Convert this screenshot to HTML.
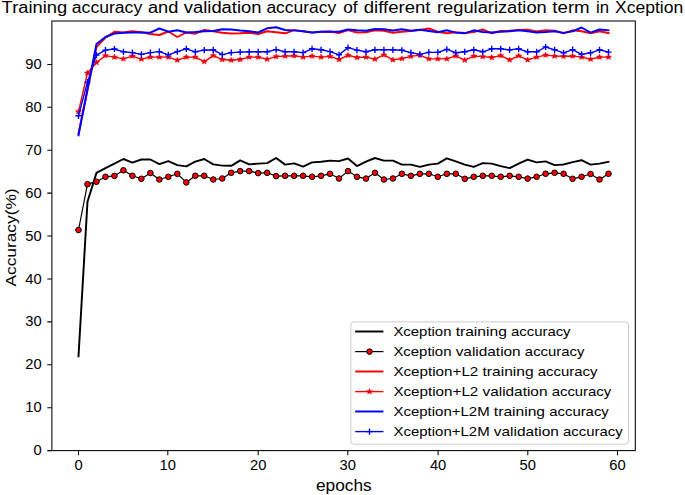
<!DOCTYPE html>
<html><head><meta charset="utf-8"><style>
html,body{margin:0;padding:0;background:#fff;width:685px;height:495px;overflow:hidden;}
svg{display:block;}
</style></head><body>
<svg width="685" height="495" viewBox="0 0 685 495"><defs><clipPath id="ax"><rect x="51.9" y="21.0" width="583.4" height="429.6"/></clipPath></defs><rect width="685" height="495" fill="#fff"/><text x="1.63" y="12.80" font-family='"Liberation Sans", sans-serif' font-size="15.8" fill="#000" textLength="65.47" lengthAdjust="spacingAndGlyphs">Training</text><text x="71.81" y="12.80" font-family='"Liberation Sans", sans-serif' font-size="15.8" fill="#000" textLength="70.41" lengthAdjust="spacingAndGlyphs">accuracy</text><text x="147.98" y="12.80" font-family='"Liberation Sans", sans-serif' font-size="15.8" fill="#000" textLength="30.37" lengthAdjust="spacingAndGlyphs">and</text><text x="183.81" y="12.80" font-family='"Liberation Sans", sans-serif' font-size="15.8" fill="#000" textLength="77.69" lengthAdjust="spacingAndGlyphs">validation</text><text x="266.41" y="12.80" font-family='"Liberation Sans", sans-serif' font-size="15.8" fill="#000" textLength="69.90" lengthAdjust="spacingAndGlyphs">accuracy</text><text x="343.31" y="12.80" font-family='"Liberation Sans", sans-serif' font-size="15.8" fill="#000" textLength="14.37" lengthAdjust="spacingAndGlyphs">of</text><text x="363.76" y="12.80" font-family='"Liberation Sans", sans-serif' font-size="15.8" fill="#000" textLength="66.74" lengthAdjust="spacingAndGlyphs">different</text><text x="437.01" y="12.80" font-family='"Liberation Sans", sans-serif' font-size="15.8" fill="#000" textLength="109.75" lengthAdjust="spacingAndGlyphs">regularization</text><text x="552.32" y="12.80" font-family='"Liberation Sans", sans-serif' font-size="15.8" fill="#000" textLength="37.39" lengthAdjust="spacingAndGlyphs">term</text><text x="596.01" y="12.80" font-family='"Liberation Sans", sans-serif' font-size="15.8" fill="#000" textLength="13.03" lengthAdjust="spacingAndGlyphs">in</text><text x="615.06" y="12.80" font-family='"Liberation Sans", sans-serif' font-size="15.8" fill="#000" textLength="68.11" lengthAdjust="spacingAndGlyphs">Xception</text><g clip-path="url(#ax)"><polyline points="78.50,356.30 87.48,201.80 96.47,172.90 105.45,168.20 114.43,163.60 123.42,159.00 132.40,162.60 141.38,159.50 150.36,159.50 159.35,164.10 168.33,161.10 177.31,165.10 186.30,166.40 195.28,161.60 204.26,159.00 213.25,164.40 222.23,165.60 231.21,165.80 240.19,160.40 249.18,164.40 258.16,163.60 267.14,163.10 276.13,158.00 285.11,164.60 294.09,163.40 303.08,166.60 312.06,162.40 321.04,161.80 330.02,160.60 339.01,161.10 347.99,158.50 356.97,166.10 365.96,161.60 374.94,158.00 383.92,160.60 392.91,160.60 401.89,164.60 410.87,164.60 419.85,166.90 428.84,164.60 437.82,163.60 446.80,158.30 455.79,161.40 464.77,164.60 473.75,166.90 482.74,163.10 491.72,163.60 500.70,166.10 509.68,168.10 518.67,163.60 527.65,159.60 536.63,162.40 545.62,161.40 554.60,165.10 563.58,164.50 572.57,162.10 581.55,160.20 590.53,164.60 599.51,163.60 608.50,161.80" fill="none" stroke="#000" stroke-width="1.95" stroke-linejoin="round" stroke-linecap="square"/><polyline points="78.50,230.00 87.48,184.20 96.47,181.70 105.45,176.80 114.43,175.90 123.42,170.30 132.40,175.80 141.38,178.80 150.36,173.00 159.35,179.50 168.33,176.80 177.31,173.80 186.30,182.40 195.28,175.80 204.26,175.80 213.25,179.50 222.23,178.50 231.21,172.80 240.19,171.10 249.18,171.10 258.16,173.10 267.14,172.80 276.13,176.10 285.11,175.80 294.09,175.80 303.08,175.80 312.06,176.80 321.04,175.80 330.02,173.80 339.01,178.50 347.99,171.10 356.97,176.80 365.96,178.60 374.94,172.80 383.92,179.50 392.91,178.50 401.89,173.80 410.87,175.80 419.85,173.80 428.84,173.80 437.82,176.80 446.80,173.80 455.79,173.80 464.77,178.80 473.75,176.80 482.74,175.80 491.72,175.80 500.70,176.80 509.68,175.80 518.67,176.80 527.65,178.60 536.63,176.80 545.62,173.80 554.60,172.80 563.58,173.80 572.57,178.80 581.55,176.80 590.53,174.00 599.51,179.50 608.50,173.80" fill="none" stroke="#000" stroke-width="1.2" stroke-linejoin="round"/><circle cx="78.50" cy="230.00" r="2.8" fill="#ff0000" stroke="#000" stroke-width="1"/><circle cx="87.48" cy="184.20" r="2.8" fill="#ff0000" stroke="#000" stroke-width="1"/><circle cx="96.47" cy="181.70" r="2.8" fill="#ff0000" stroke="#000" stroke-width="1"/><circle cx="105.45" cy="176.80" r="2.8" fill="#ff0000" stroke="#000" stroke-width="1"/><circle cx="114.43" cy="175.90" r="2.8" fill="#ff0000" stroke="#000" stroke-width="1"/><circle cx="123.42" cy="170.30" r="2.8" fill="#ff0000" stroke="#000" stroke-width="1"/><circle cx="132.40" cy="175.80" r="2.8" fill="#ff0000" stroke="#000" stroke-width="1"/><circle cx="141.38" cy="178.80" r="2.8" fill="#ff0000" stroke="#000" stroke-width="1"/><circle cx="150.36" cy="173.00" r="2.8" fill="#ff0000" stroke="#000" stroke-width="1"/><circle cx="159.35" cy="179.50" r="2.8" fill="#ff0000" stroke="#000" stroke-width="1"/><circle cx="168.33" cy="176.80" r="2.8" fill="#ff0000" stroke="#000" stroke-width="1"/><circle cx="177.31" cy="173.80" r="2.8" fill="#ff0000" stroke="#000" stroke-width="1"/><circle cx="186.30" cy="182.40" r="2.8" fill="#ff0000" stroke="#000" stroke-width="1"/><circle cx="195.28" cy="175.80" r="2.8" fill="#ff0000" stroke="#000" stroke-width="1"/><circle cx="204.26" cy="175.80" r="2.8" fill="#ff0000" stroke="#000" stroke-width="1"/><circle cx="213.25" cy="179.50" r="2.8" fill="#ff0000" stroke="#000" stroke-width="1"/><circle cx="222.23" cy="178.50" r="2.8" fill="#ff0000" stroke="#000" stroke-width="1"/><circle cx="231.21" cy="172.80" r="2.8" fill="#ff0000" stroke="#000" stroke-width="1"/><circle cx="240.19" cy="171.10" r="2.8" fill="#ff0000" stroke="#000" stroke-width="1"/><circle cx="249.18" cy="171.10" r="2.8" fill="#ff0000" stroke="#000" stroke-width="1"/><circle cx="258.16" cy="173.10" r="2.8" fill="#ff0000" stroke="#000" stroke-width="1"/><circle cx="267.14" cy="172.80" r="2.8" fill="#ff0000" stroke="#000" stroke-width="1"/><circle cx="276.13" cy="176.10" r="2.8" fill="#ff0000" stroke="#000" stroke-width="1"/><circle cx="285.11" cy="175.80" r="2.8" fill="#ff0000" stroke="#000" stroke-width="1"/><circle cx="294.09" cy="175.80" r="2.8" fill="#ff0000" stroke="#000" stroke-width="1"/><circle cx="303.08" cy="175.80" r="2.8" fill="#ff0000" stroke="#000" stroke-width="1"/><circle cx="312.06" cy="176.80" r="2.8" fill="#ff0000" stroke="#000" stroke-width="1"/><circle cx="321.04" cy="175.80" r="2.8" fill="#ff0000" stroke="#000" stroke-width="1"/><circle cx="330.02" cy="173.80" r="2.8" fill="#ff0000" stroke="#000" stroke-width="1"/><circle cx="339.01" cy="178.50" r="2.8" fill="#ff0000" stroke="#000" stroke-width="1"/><circle cx="347.99" cy="171.10" r="2.8" fill="#ff0000" stroke="#000" stroke-width="1"/><circle cx="356.97" cy="176.80" r="2.8" fill="#ff0000" stroke="#000" stroke-width="1"/><circle cx="365.96" cy="178.60" r="2.8" fill="#ff0000" stroke="#000" stroke-width="1"/><circle cx="374.94" cy="172.80" r="2.8" fill="#ff0000" stroke="#000" stroke-width="1"/><circle cx="383.92" cy="179.50" r="2.8" fill="#ff0000" stroke="#000" stroke-width="1"/><circle cx="392.91" cy="178.50" r="2.8" fill="#ff0000" stroke="#000" stroke-width="1"/><circle cx="401.89" cy="173.80" r="2.8" fill="#ff0000" stroke="#000" stroke-width="1"/><circle cx="410.87" cy="175.80" r="2.8" fill="#ff0000" stroke="#000" stroke-width="1"/><circle cx="419.85" cy="173.80" r="2.8" fill="#ff0000" stroke="#000" stroke-width="1"/><circle cx="428.84" cy="173.80" r="2.8" fill="#ff0000" stroke="#000" stroke-width="1"/><circle cx="437.82" cy="176.80" r="2.8" fill="#ff0000" stroke="#000" stroke-width="1"/><circle cx="446.80" cy="173.80" r="2.8" fill="#ff0000" stroke="#000" stroke-width="1"/><circle cx="455.79" cy="173.80" r="2.8" fill="#ff0000" stroke="#000" stroke-width="1"/><circle cx="464.77" cy="178.80" r="2.8" fill="#ff0000" stroke="#000" stroke-width="1"/><circle cx="473.75" cy="176.80" r="2.8" fill="#ff0000" stroke="#000" stroke-width="1"/><circle cx="482.74" cy="175.80" r="2.8" fill="#ff0000" stroke="#000" stroke-width="1"/><circle cx="491.72" cy="175.80" r="2.8" fill="#ff0000" stroke="#000" stroke-width="1"/><circle cx="500.70" cy="176.80" r="2.8" fill="#ff0000" stroke="#000" stroke-width="1"/><circle cx="509.68" cy="175.80" r="2.8" fill="#ff0000" stroke="#000" stroke-width="1"/><circle cx="518.67" cy="176.80" r="2.8" fill="#ff0000" stroke="#000" stroke-width="1"/><circle cx="527.65" cy="178.60" r="2.8" fill="#ff0000" stroke="#000" stroke-width="1"/><circle cx="536.63" cy="176.80" r="2.8" fill="#ff0000" stroke="#000" stroke-width="1"/><circle cx="545.62" cy="173.80" r="2.8" fill="#ff0000" stroke="#000" stroke-width="1"/><circle cx="554.60" cy="172.80" r="2.8" fill="#ff0000" stroke="#000" stroke-width="1"/><circle cx="563.58" cy="173.80" r="2.8" fill="#ff0000" stroke="#000" stroke-width="1"/><circle cx="572.57" cy="178.80" r="2.8" fill="#ff0000" stroke="#000" stroke-width="1"/><circle cx="581.55" cy="176.80" r="2.8" fill="#ff0000" stroke="#000" stroke-width="1"/><circle cx="590.53" cy="174.00" r="2.8" fill="#ff0000" stroke="#000" stroke-width="1"/><circle cx="599.51" cy="179.50" r="2.8" fill="#ff0000" stroke="#000" stroke-width="1"/><circle cx="608.50" cy="173.80" r="2.8" fill="#ff0000" stroke="#000" stroke-width="1"/><polyline points="78.50,133.50 87.48,90.00 96.47,47.10 105.45,37.60 114.43,31.70 123.42,32.50 132.40,31.30 141.38,32.30 150.36,34.00 159.35,35.00 168.33,31.50 177.31,37.00 186.30,32.50 195.28,33.70 204.26,30.00 213.25,31.30 222.23,32.70 231.21,33.50 240.19,33.30 249.18,32.70 258.16,34.00 267.14,31.30 276.13,32.30 285.11,33.30 294.09,30.10 303.08,31.30 312.06,32.60 321.04,31.70 330.02,31.50 339.01,33.00 347.99,30.00 356.97,32.50 365.96,32.30 374.94,30.30 383.92,30.70 392.91,32.70 401.89,31.80 410.87,31.00 419.85,30.00 428.84,28.50 437.82,31.70 446.80,33.30 455.79,32.30 464.77,33.00 473.75,32.00 482.74,29.50 491.72,33.30 500.70,31.00 509.68,30.80 518.67,30.00 527.65,29.70 536.63,31.50 545.62,30.30 554.60,30.70 563.58,33.40 572.57,30.30 581.55,31.30 590.53,33.30 599.51,31.30 608.50,33.00" fill="none" stroke="#ff0000" stroke-width="1.95" stroke-linejoin="round" stroke-linecap="square"/><polyline points="78.50,111.70 87.48,73.00 96.47,62.50 105.45,55.60 114.43,57.10 123.42,58.90 132.40,56.10 141.38,59.20 150.36,57.10 159.35,57.10 168.33,57.10 177.31,60.20 186.30,57.10 195.28,57.10 204.26,61.70 213.25,55.60 222.23,59.50 231.21,60.20 240.19,59.50 249.18,57.10 258.16,57.10 267.14,59.20 276.13,56.60 285.11,56.10 294.09,55.80 303.08,57.10 312.06,56.10 321.04,57.10 330.02,56.40 339.01,59.50 347.99,55.30 356.97,57.50 365.96,57.10 374.94,59.20 383.92,54.80 392.91,59.90 401.89,58.70 410.87,56.40 419.85,55.10 428.84,58.90 437.82,58.90 446.80,58.90 455.79,55.90 464.77,60.20 473.75,56.10 482.74,56.60 491.72,57.50 500.70,55.60 509.68,59.90 518.67,55.80 527.65,59.90 536.63,57.10 545.62,55.10 554.60,56.10 563.58,56.30 572.57,56.10 581.55,57.10 590.53,59.20 599.51,57.10 608.50,57.10" fill="none" stroke="#ff0000" stroke-width="1.4" stroke-linejoin="round"/><g transform="translate(78.50,111.70)"><path transform="scale(1,0.88)" d="M0.00,-3.40 L0.94,-1.29 L3.23,-1.05 L1.52,0.49 L2.00,2.75 L0.00,1.60 L-2.00,2.75 L-1.52,0.49 L-3.23,-1.05 L-0.94,-1.29 Z" fill="#ff0000" stroke="#ff0000" stroke-width="0.4"/><circle r="0.75" fill="#6a1a9a"/></g><g transform="translate(87.48,73.00)"><path transform="scale(1,0.88)" d="M0.00,-3.40 L0.94,-1.29 L3.23,-1.05 L1.52,0.49 L2.00,2.75 L0.00,1.60 L-2.00,2.75 L-1.52,0.49 L-3.23,-1.05 L-0.94,-1.29 Z" fill="#ff0000" stroke="#ff0000" stroke-width="0.4"/><circle r="0.75" fill="#6a1a9a"/></g><g transform="translate(96.47,62.50)"><path transform="scale(1,0.88)" d="M0.00,-3.40 L0.94,-1.29 L3.23,-1.05 L1.52,0.49 L2.00,2.75 L0.00,1.60 L-2.00,2.75 L-1.52,0.49 L-3.23,-1.05 L-0.94,-1.29 Z" fill="#ff0000" stroke="#ff0000" stroke-width="0.4"/><circle r="0.75" fill="#6a1a9a"/></g><g transform="translate(105.45,55.60)"><path transform="scale(1,0.88)" d="M0.00,-3.40 L0.94,-1.29 L3.23,-1.05 L1.52,0.49 L2.00,2.75 L0.00,1.60 L-2.00,2.75 L-1.52,0.49 L-3.23,-1.05 L-0.94,-1.29 Z" fill="#ff0000" stroke="#ff0000" stroke-width="0.4"/><circle r="0.75" fill="#6a1a9a"/></g><g transform="translate(114.43,57.10)"><path transform="scale(1,0.88)" d="M0.00,-3.40 L0.94,-1.29 L3.23,-1.05 L1.52,0.49 L2.00,2.75 L0.00,1.60 L-2.00,2.75 L-1.52,0.49 L-3.23,-1.05 L-0.94,-1.29 Z" fill="#ff0000" stroke="#ff0000" stroke-width="0.4"/><circle r="0.75" fill="#6a1a9a"/></g><g transform="translate(123.42,58.90)"><path transform="scale(1,0.88)" d="M0.00,-3.40 L0.94,-1.29 L3.23,-1.05 L1.52,0.49 L2.00,2.75 L0.00,1.60 L-2.00,2.75 L-1.52,0.49 L-3.23,-1.05 L-0.94,-1.29 Z" fill="#ff0000" stroke="#ff0000" stroke-width="0.4"/><circle r="0.75" fill="#6a1a9a"/></g><g transform="translate(132.40,56.10)"><path transform="scale(1,0.88)" d="M0.00,-3.40 L0.94,-1.29 L3.23,-1.05 L1.52,0.49 L2.00,2.75 L0.00,1.60 L-2.00,2.75 L-1.52,0.49 L-3.23,-1.05 L-0.94,-1.29 Z" fill="#ff0000" stroke="#ff0000" stroke-width="0.4"/><circle r="0.75" fill="#6a1a9a"/></g><g transform="translate(141.38,59.20)"><path transform="scale(1,0.88)" d="M0.00,-3.40 L0.94,-1.29 L3.23,-1.05 L1.52,0.49 L2.00,2.75 L0.00,1.60 L-2.00,2.75 L-1.52,0.49 L-3.23,-1.05 L-0.94,-1.29 Z" fill="#ff0000" stroke="#ff0000" stroke-width="0.4"/><circle r="0.75" fill="#6a1a9a"/></g><g transform="translate(150.36,57.10)"><path transform="scale(1,0.88)" d="M0.00,-3.40 L0.94,-1.29 L3.23,-1.05 L1.52,0.49 L2.00,2.75 L0.00,1.60 L-2.00,2.75 L-1.52,0.49 L-3.23,-1.05 L-0.94,-1.29 Z" fill="#ff0000" stroke="#ff0000" stroke-width="0.4"/><circle r="0.75" fill="#6a1a9a"/></g><g transform="translate(159.35,57.10)"><path transform="scale(1,0.88)" d="M0.00,-3.40 L0.94,-1.29 L3.23,-1.05 L1.52,0.49 L2.00,2.75 L0.00,1.60 L-2.00,2.75 L-1.52,0.49 L-3.23,-1.05 L-0.94,-1.29 Z" fill="#ff0000" stroke="#ff0000" stroke-width="0.4"/><circle r="0.75" fill="#6a1a9a"/></g><g transform="translate(168.33,57.10)"><path transform="scale(1,0.88)" d="M0.00,-3.40 L0.94,-1.29 L3.23,-1.05 L1.52,0.49 L2.00,2.75 L0.00,1.60 L-2.00,2.75 L-1.52,0.49 L-3.23,-1.05 L-0.94,-1.29 Z" fill="#ff0000" stroke="#ff0000" stroke-width="0.4"/><circle r="0.75" fill="#6a1a9a"/></g><g transform="translate(177.31,60.20)"><path transform="scale(1,0.88)" d="M0.00,-3.40 L0.94,-1.29 L3.23,-1.05 L1.52,0.49 L2.00,2.75 L0.00,1.60 L-2.00,2.75 L-1.52,0.49 L-3.23,-1.05 L-0.94,-1.29 Z" fill="#ff0000" stroke="#ff0000" stroke-width="0.4"/><circle r="0.75" fill="#6a1a9a"/></g><g transform="translate(186.30,57.10)"><path transform="scale(1,0.88)" d="M0.00,-3.40 L0.94,-1.29 L3.23,-1.05 L1.52,0.49 L2.00,2.75 L0.00,1.60 L-2.00,2.75 L-1.52,0.49 L-3.23,-1.05 L-0.94,-1.29 Z" fill="#ff0000" stroke="#ff0000" stroke-width="0.4"/><circle r="0.75" fill="#6a1a9a"/></g><g transform="translate(195.28,57.10)"><path transform="scale(1,0.88)" d="M0.00,-3.40 L0.94,-1.29 L3.23,-1.05 L1.52,0.49 L2.00,2.75 L0.00,1.60 L-2.00,2.75 L-1.52,0.49 L-3.23,-1.05 L-0.94,-1.29 Z" fill="#ff0000" stroke="#ff0000" stroke-width="0.4"/><circle r="0.75" fill="#6a1a9a"/></g><g transform="translate(204.26,61.70)"><path transform="scale(1,0.88)" d="M0.00,-3.40 L0.94,-1.29 L3.23,-1.05 L1.52,0.49 L2.00,2.75 L0.00,1.60 L-2.00,2.75 L-1.52,0.49 L-3.23,-1.05 L-0.94,-1.29 Z" fill="#ff0000" stroke="#ff0000" stroke-width="0.4"/><circle r="0.75" fill="#6a1a9a"/></g><g transform="translate(213.25,55.60)"><path transform="scale(1,0.88)" d="M0.00,-3.40 L0.94,-1.29 L3.23,-1.05 L1.52,0.49 L2.00,2.75 L0.00,1.60 L-2.00,2.75 L-1.52,0.49 L-3.23,-1.05 L-0.94,-1.29 Z" fill="#ff0000" stroke="#ff0000" stroke-width="0.4"/><circle r="0.75" fill="#6a1a9a"/></g><g transform="translate(222.23,59.50)"><path transform="scale(1,0.88)" d="M0.00,-3.40 L0.94,-1.29 L3.23,-1.05 L1.52,0.49 L2.00,2.75 L0.00,1.60 L-2.00,2.75 L-1.52,0.49 L-3.23,-1.05 L-0.94,-1.29 Z" fill="#ff0000" stroke="#ff0000" stroke-width="0.4"/><circle r="0.75" fill="#6a1a9a"/></g><g transform="translate(231.21,60.20)"><path transform="scale(1,0.88)" d="M0.00,-3.40 L0.94,-1.29 L3.23,-1.05 L1.52,0.49 L2.00,2.75 L0.00,1.60 L-2.00,2.75 L-1.52,0.49 L-3.23,-1.05 L-0.94,-1.29 Z" fill="#ff0000" stroke="#ff0000" stroke-width="0.4"/><circle r="0.75" fill="#6a1a9a"/></g><g transform="translate(240.19,59.50)"><path transform="scale(1,0.88)" d="M0.00,-3.40 L0.94,-1.29 L3.23,-1.05 L1.52,0.49 L2.00,2.75 L0.00,1.60 L-2.00,2.75 L-1.52,0.49 L-3.23,-1.05 L-0.94,-1.29 Z" fill="#ff0000" stroke="#ff0000" stroke-width="0.4"/><circle r="0.75" fill="#6a1a9a"/></g><g transform="translate(249.18,57.10)"><path transform="scale(1,0.88)" d="M0.00,-3.40 L0.94,-1.29 L3.23,-1.05 L1.52,0.49 L2.00,2.75 L0.00,1.60 L-2.00,2.75 L-1.52,0.49 L-3.23,-1.05 L-0.94,-1.29 Z" fill="#ff0000" stroke="#ff0000" stroke-width="0.4"/><circle r="0.75" fill="#6a1a9a"/></g><g transform="translate(258.16,57.10)"><path transform="scale(1,0.88)" d="M0.00,-3.40 L0.94,-1.29 L3.23,-1.05 L1.52,0.49 L2.00,2.75 L0.00,1.60 L-2.00,2.75 L-1.52,0.49 L-3.23,-1.05 L-0.94,-1.29 Z" fill="#ff0000" stroke="#ff0000" stroke-width="0.4"/><circle r="0.75" fill="#6a1a9a"/></g><g transform="translate(267.14,59.20)"><path transform="scale(1,0.88)" d="M0.00,-3.40 L0.94,-1.29 L3.23,-1.05 L1.52,0.49 L2.00,2.75 L0.00,1.60 L-2.00,2.75 L-1.52,0.49 L-3.23,-1.05 L-0.94,-1.29 Z" fill="#ff0000" stroke="#ff0000" stroke-width="0.4"/><circle r="0.75" fill="#6a1a9a"/></g><g transform="translate(276.13,56.60)"><path transform="scale(1,0.88)" d="M0.00,-3.40 L0.94,-1.29 L3.23,-1.05 L1.52,0.49 L2.00,2.75 L0.00,1.60 L-2.00,2.75 L-1.52,0.49 L-3.23,-1.05 L-0.94,-1.29 Z" fill="#ff0000" stroke="#ff0000" stroke-width="0.4"/><circle r="0.75" fill="#6a1a9a"/></g><g transform="translate(285.11,56.10)"><path transform="scale(1,0.88)" d="M0.00,-3.40 L0.94,-1.29 L3.23,-1.05 L1.52,0.49 L2.00,2.75 L0.00,1.60 L-2.00,2.75 L-1.52,0.49 L-3.23,-1.05 L-0.94,-1.29 Z" fill="#ff0000" stroke="#ff0000" stroke-width="0.4"/><circle r="0.75" fill="#6a1a9a"/></g><g transform="translate(294.09,55.80)"><path transform="scale(1,0.88)" d="M0.00,-3.40 L0.94,-1.29 L3.23,-1.05 L1.52,0.49 L2.00,2.75 L0.00,1.60 L-2.00,2.75 L-1.52,0.49 L-3.23,-1.05 L-0.94,-1.29 Z" fill="#ff0000" stroke="#ff0000" stroke-width="0.4"/><circle r="0.75" fill="#6a1a9a"/></g><g transform="translate(303.08,57.10)"><path transform="scale(1,0.88)" d="M0.00,-3.40 L0.94,-1.29 L3.23,-1.05 L1.52,0.49 L2.00,2.75 L0.00,1.60 L-2.00,2.75 L-1.52,0.49 L-3.23,-1.05 L-0.94,-1.29 Z" fill="#ff0000" stroke="#ff0000" stroke-width="0.4"/><circle r="0.75" fill="#6a1a9a"/></g><g transform="translate(312.06,56.10)"><path transform="scale(1,0.88)" d="M0.00,-3.40 L0.94,-1.29 L3.23,-1.05 L1.52,0.49 L2.00,2.75 L0.00,1.60 L-2.00,2.75 L-1.52,0.49 L-3.23,-1.05 L-0.94,-1.29 Z" fill="#ff0000" stroke="#ff0000" stroke-width="0.4"/><circle r="0.75" fill="#6a1a9a"/></g><g transform="translate(321.04,57.10)"><path transform="scale(1,0.88)" d="M0.00,-3.40 L0.94,-1.29 L3.23,-1.05 L1.52,0.49 L2.00,2.75 L0.00,1.60 L-2.00,2.75 L-1.52,0.49 L-3.23,-1.05 L-0.94,-1.29 Z" fill="#ff0000" stroke="#ff0000" stroke-width="0.4"/><circle r="0.75" fill="#6a1a9a"/></g><g transform="translate(330.02,56.40)"><path transform="scale(1,0.88)" d="M0.00,-3.40 L0.94,-1.29 L3.23,-1.05 L1.52,0.49 L2.00,2.75 L0.00,1.60 L-2.00,2.75 L-1.52,0.49 L-3.23,-1.05 L-0.94,-1.29 Z" fill="#ff0000" stroke="#ff0000" stroke-width="0.4"/><circle r="0.75" fill="#6a1a9a"/></g><g transform="translate(339.01,59.50)"><path transform="scale(1,0.88)" d="M0.00,-3.40 L0.94,-1.29 L3.23,-1.05 L1.52,0.49 L2.00,2.75 L0.00,1.60 L-2.00,2.75 L-1.52,0.49 L-3.23,-1.05 L-0.94,-1.29 Z" fill="#ff0000" stroke="#ff0000" stroke-width="0.4"/><circle r="0.75" fill="#6a1a9a"/></g><g transform="translate(347.99,55.30)"><path transform="scale(1,0.88)" d="M0.00,-3.40 L0.94,-1.29 L3.23,-1.05 L1.52,0.49 L2.00,2.75 L0.00,1.60 L-2.00,2.75 L-1.52,0.49 L-3.23,-1.05 L-0.94,-1.29 Z" fill="#ff0000" stroke="#ff0000" stroke-width="0.4"/><circle r="0.75" fill="#6a1a9a"/></g><g transform="translate(356.97,57.50)"><path transform="scale(1,0.88)" d="M0.00,-3.40 L0.94,-1.29 L3.23,-1.05 L1.52,0.49 L2.00,2.75 L0.00,1.60 L-2.00,2.75 L-1.52,0.49 L-3.23,-1.05 L-0.94,-1.29 Z" fill="#ff0000" stroke="#ff0000" stroke-width="0.4"/><circle r="0.75" fill="#6a1a9a"/></g><g transform="translate(365.96,57.10)"><path transform="scale(1,0.88)" d="M0.00,-3.40 L0.94,-1.29 L3.23,-1.05 L1.52,0.49 L2.00,2.75 L0.00,1.60 L-2.00,2.75 L-1.52,0.49 L-3.23,-1.05 L-0.94,-1.29 Z" fill="#ff0000" stroke="#ff0000" stroke-width="0.4"/><circle r="0.75" fill="#6a1a9a"/></g><g transform="translate(374.94,59.20)"><path transform="scale(1,0.88)" d="M0.00,-3.40 L0.94,-1.29 L3.23,-1.05 L1.52,0.49 L2.00,2.75 L0.00,1.60 L-2.00,2.75 L-1.52,0.49 L-3.23,-1.05 L-0.94,-1.29 Z" fill="#ff0000" stroke="#ff0000" stroke-width="0.4"/><circle r="0.75" fill="#6a1a9a"/></g><g transform="translate(383.92,54.80)"><path transform="scale(1,0.88)" d="M0.00,-3.40 L0.94,-1.29 L3.23,-1.05 L1.52,0.49 L2.00,2.75 L0.00,1.60 L-2.00,2.75 L-1.52,0.49 L-3.23,-1.05 L-0.94,-1.29 Z" fill="#ff0000" stroke="#ff0000" stroke-width="0.4"/><circle r="0.75" fill="#6a1a9a"/></g><g transform="translate(392.91,59.90)"><path transform="scale(1,0.88)" d="M0.00,-3.40 L0.94,-1.29 L3.23,-1.05 L1.52,0.49 L2.00,2.75 L0.00,1.60 L-2.00,2.75 L-1.52,0.49 L-3.23,-1.05 L-0.94,-1.29 Z" fill="#ff0000" stroke="#ff0000" stroke-width="0.4"/><circle r="0.75" fill="#6a1a9a"/></g><g transform="translate(401.89,58.70)"><path transform="scale(1,0.88)" d="M0.00,-3.40 L0.94,-1.29 L3.23,-1.05 L1.52,0.49 L2.00,2.75 L0.00,1.60 L-2.00,2.75 L-1.52,0.49 L-3.23,-1.05 L-0.94,-1.29 Z" fill="#ff0000" stroke="#ff0000" stroke-width="0.4"/><circle r="0.75" fill="#6a1a9a"/></g><g transform="translate(410.87,56.40)"><path transform="scale(1,0.88)" d="M0.00,-3.40 L0.94,-1.29 L3.23,-1.05 L1.52,0.49 L2.00,2.75 L0.00,1.60 L-2.00,2.75 L-1.52,0.49 L-3.23,-1.05 L-0.94,-1.29 Z" fill="#ff0000" stroke="#ff0000" stroke-width="0.4"/><circle r="0.75" fill="#6a1a9a"/></g><g transform="translate(419.85,55.10)"><path transform="scale(1,0.88)" d="M0.00,-3.40 L0.94,-1.29 L3.23,-1.05 L1.52,0.49 L2.00,2.75 L0.00,1.60 L-2.00,2.75 L-1.52,0.49 L-3.23,-1.05 L-0.94,-1.29 Z" fill="#ff0000" stroke="#ff0000" stroke-width="0.4"/><circle r="0.75" fill="#6a1a9a"/></g><g transform="translate(428.84,58.90)"><path transform="scale(1,0.88)" d="M0.00,-3.40 L0.94,-1.29 L3.23,-1.05 L1.52,0.49 L2.00,2.75 L0.00,1.60 L-2.00,2.75 L-1.52,0.49 L-3.23,-1.05 L-0.94,-1.29 Z" fill="#ff0000" stroke="#ff0000" stroke-width="0.4"/><circle r="0.75" fill="#6a1a9a"/></g><g transform="translate(437.82,58.90)"><path transform="scale(1,0.88)" d="M0.00,-3.40 L0.94,-1.29 L3.23,-1.05 L1.52,0.49 L2.00,2.75 L0.00,1.60 L-2.00,2.75 L-1.52,0.49 L-3.23,-1.05 L-0.94,-1.29 Z" fill="#ff0000" stroke="#ff0000" stroke-width="0.4"/><circle r="0.75" fill="#6a1a9a"/></g><g transform="translate(446.80,58.90)"><path transform="scale(1,0.88)" d="M0.00,-3.40 L0.94,-1.29 L3.23,-1.05 L1.52,0.49 L2.00,2.75 L0.00,1.60 L-2.00,2.75 L-1.52,0.49 L-3.23,-1.05 L-0.94,-1.29 Z" fill="#ff0000" stroke="#ff0000" stroke-width="0.4"/><circle r="0.75" fill="#6a1a9a"/></g><g transform="translate(455.79,55.90)"><path transform="scale(1,0.88)" d="M0.00,-3.40 L0.94,-1.29 L3.23,-1.05 L1.52,0.49 L2.00,2.75 L0.00,1.60 L-2.00,2.75 L-1.52,0.49 L-3.23,-1.05 L-0.94,-1.29 Z" fill="#ff0000" stroke="#ff0000" stroke-width="0.4"/><circle r="0.75" fill="#6a1a9a"/></g><g transform="translate(464.77,60.20)"><path transform="scale(1,0.88)" d="M0.00,-3.40 L0.94,-1.29 L3.23,-1.05 L1.52,0.49 L2.00,2.75 L0.00,1.60 L-2.00,2.75 L-1.52,0.49 L-3.23,-1.05 L-0.94,-1.29 Z" fill="#ff0000" stroke="#ff0000" stroke-width="0.4"/><circle r="0.75" fill="#6a1a9a"/></g><g transform="translate(473.75,56.10)"><path transform="scale(1,0.88)" d="M0.00,-3.40 L0.94,-1.29 L3.23,-1.05 L1.52,0.49 L2.00,2.75 L0.00,1.60 L-2.00,2.75 L-1.52,0.49 L-3.23,-1.05 L-0.94,-1.29 Z" fill="#ff0000" stroke="#ff0000" stroke-width="0.4"/><circle r="0.75" fill="#6a1a9a"/></g><g transform="translate(482.74,56.60)"><path transform="scale(1,0.88)" d="M0.00,-3.40 L0.94,-1.29 L3.23,-1.05 L1.52,0.49 L2.00,2.75 L0.00,1.60 L-2.00,2.75 L-1.52,0.49 L-3.23,-1.05 L-0.94,-1.29 Z" fill="#ff0000" stroke="#ff0000" stroke-width="0.4"/><circle r="0.75" fill="#6a1a9a"/></g><g transform="translate(491.72,57.50)"><path transform="scale(1,0.88)" d="M0.00,-3.40 L0.94,-1.29 L3.23,-1.05 L1.52,0.49 L2.00,2.75 L0.00,1.60 L-2.00,2.75 L-1.52,0.49 L-3.23,-1.05 L-0.94,-1.29 Z" fill="#ff0000" stroke="#ff0000" stroke-width="0.4"/><circle r="0.75" fill="#6a1a9a"/></g><g transform="translate(500.70,55.60)"><path transform="scale(1,0.88)" d="M0.00,-3.40 L0.94,-1.29 L3.23,-1.05 L1.52,0.49 L2.00,2.75 L0.00,1.60 L-2.00,2.75 L-1.52,0.49 L-3.23,-1.05 L-0.94,-1.29 Z" fill="#ff0000" stroke="#ff0000" stroke-width="0.4"/><circle r="0.75" fill="#6a1a9a"/></g><g transform="translate(509.68,59.90)"><path transform="scale(1,0.88)" d="M0.00,-3.40 L0.94,-1.29 L3.23,-1.05 L1.52,0.49 L2.00,2.75 L0.00,1.60 L-2.00,2.75 L-1.52,0.49 L-3.23,-1.05 L-0.94,-1.29 Z" fill="#ff0000" stroke="#ff0000" stroke-width="0.4"/><circle r="0.75" fill="#6a1a9a"/></g><g transform="translate(518.67,55.80)"><path transform="scale(1,0.88)" d="M0.00,-3.40 L0.94,-1.29 L3.23,-1.05 L1.52,0.49 L2.00,2.75 L0.00,1.60 L-2.00,2.75 L-1.52,0.49 L-3.23,-1.05 L-0.94,-1.29 Z" fill="#ff0000" stroke="#ff0000" stroke-width="0.4"/><circle r="0.75" fill="#6a1a9a"/></g><g transform="translate(527.65,59.90)"><path transform="scale(1,0.88)" d="M0.00,-3.40 L0.94,-1.29 L3.23,-1.05 L1.52,0.49 L2.00,2.75 L0.00,1.60 L-2.00,2.75 L-1.52,0.49 L-3.23,-1.05 L-0.94,-1.29 Z" fill="#ff0000" stroke="#ff0000" stroke-width="0.4"/><circle r="0.75" fill="#6a1a9a"/></g><g transform="translate(536.63,57.10)"><path transform="scale(1,0.88)" d="M0.00,-3.40 L0.94,-1.29 L3.23,-1.05 L1.52,0.49 L2.00,2.75 L0.00,1.60 L-2.00,2.75 L-1.52,0.49 L-3.23,-1.05 L-0.94,-1.29 Z" fill="#ff0000" stroke="#ff0000" stroke-width="0.4"/><circle r="0.75" fill="#6a1a9a"/></g><g transform="translate(545.62,55.10)"><path transform="scale(1,0.88)" d="M0.00,-3.40 L0.94,-1.29 L3.23,-1.05 L1.52,0.49 L2.00,2.75 L0.00,1.60 L-2.00,2.75 L-1.52,0.49 L-3.23,-1.05 L-0.94,-1.29 Z" fill="#ff0000" stroke="#ff0000" stroke-width="0.4"/><circle r="0.75" fill="#6a1a9a"/></g><g transform="translate(554.60,56.10)"><path transform="scale(1,0.88)" d="M0.00,-3.40 L0.94,-1.29 L3.23,-1.05 L1.52,0.49 L2.00,2.75 L0.00,1.60 L-2.00,2.75 L-1.52,0.49 L-3.23,-1.05 L-0.94,-1.29 Z" fill="#ff0000" stroke="#ff0000" stroke-width="0.4"/><circle r="0.75" fill="#6a1a9a"/></g><g transform="translate(563.58,56.30)"><path transform="scale(1,0.88)" d="M0.00,-3.40 L0.94,-1.29 L3.23,-1.05 L1.52,0.49 L2.00,2.75 L0.00,1.60 L-2.00,2.75 L-1.52,0.49 L-3.23,-1.05 L-0.94,-1.29 Z" fill="#ff0000" stroke="#ff0000" stroke-width="0.4"/><circle r="0.75" fill="#6a1a9a"/></g><g transform="translate(572.57,56.10)"><path transform="scale(1,0.88)" d="M0.00,-3.40 L0.94,-1.29 L3.23,-1.05 L1.52,0.49 L2.00,2.75 L0.00,1.60 L-2.00,2.75 L-1.52,0.49 L-3.23,-1.05 L-0.94,-1.29 Z" fill="#ff0000" stroke="#ff0000" stroke-width="0.4"/><circle r="0.75" fill="#6a1a9a"/></g><g transform="translate(581.55,57.10)"><path transform="scale(1,0.88)" d="M0.00,-3.40 L0.94,-1.29 L3.23,-1.05 L1.52,0.49 L2.00,2.75 L0.00,1.60 L-2.00,2.75 L-1.52,0.49 L-3.23,-1.05 L-0.94,-1.29 Z" fill="#ff0000" stroke="#ff0000" stroke-width="0.4"/><circle r="0.75" fill="#6a1a9a"/></g><g transform="translate(590.53,59.20)"><path transform="scale(1,0.88)" d="M0.00,-3.40 L0.94,-1.29 L3.23,-1.05 L1.52,0.49 L2.00,2.75 L0.00,1.60 L-2.00,2.75 L-1.52,0.49 L-3.23,-1.05 L-0.94,-1.29 Z" fill="#ff0000" stroke="#ff0000" stroke-width="0.4"/><circle r="0.75" fill="#6a1a9a"/></g><g transform="translate(599.51,57.10)"><path transform="scale(1,0.88)" d="M0.00,-3.40 L0.94,-1.29 L3.23,-1.05 L1.52,0.49 L2.00,2.75 L0.00,1.60 L-2.00,2.75 L-1.52,0.49 L-3.23,-1.05 L-0.94,-1.29 Z" fill="#ff0000" stroke="#ff0000" stroke-width="0.4"/><circle r="0.75" fill="#6a1a9a"/></g><g transform="translate(608.50,57.10)"><path transform="scale(1,0.88)" d="M0.00,-3.40 L0.94,-1.29 L3.23,-1.05 L1.52,0.49 L2.00,2.75 L0.00,1.60 L-2.00,2.75 L-1.52,0.49 L-3.23,-1.05 L-0.94,-1.29 Z" fill="#ff0000" stroke="#ff0000" stroke-width="0.4"/><circle r="0.75" fill="#6a1a9a"/></g><polyline points="78.50,135.30 87.48,89.50 96.47,44.00 105.45,37.00 114.43,33.60 123.42,32.70 132.40,32.50 141.38,32.50 150.36,32.70 159.35,28.50 168.33,31.70 177.31,30.30 186.30,32.50 195.28,32.00 204.26,31.30 213.25,31.00 222.23,29.30 231.21,29.50 240.19,30.50 249.18,31.30 258.16,32.50 267.14,28.30 276.13,27.20 285.11,30.00 294.09,30.40 303.08,31.30 312.06,32.50 321.04,31.70 330.02,31.70 339.01,31.70 347.99,29.50 356.97,30.30 365.96,30.70 374.94,29.00 383.92,29.30 392.91,30.50 401.89,29.30 410.87,30.70 419.85,29.70 428.84,31.00 437.82,32.30 446.80,30.30 455.79,32.60 464.77,33.30 473.75,30.30 482.74,32.00 491.72,32.50 500.70,31.70 509.68,31.20 518.67,30.30 527.65,31.30 536.63,32.50 545.62,32.00 554.60,31.30 563.58,32.90 572.57,31.30 581.55,27.50 590.53,32.70 599.51,29.50 608.50,30.30" fill="none" stroke="#0000ff" stroke-width="1.95" stroke-linejoin="round" stroke-linecap="square"/><polyline points="78.50,115.80 87.48,82.10 96.47,55.10 105.45,50.10 114.43,49.00 123.42,51.80 132.40,52.60 141.38,54.40 150.36,52.60 159.35,51.60 168.33,54.80 177.31,51.60 186.30,48.80 195.28,51.80 204.26,50.10 213.25,49.80 222.23,54.60 231.21,52.60 240.19,52.10 249.18,51.80 258.16,51.80 267.14,51.80 276.13,49.60 285.11,51.80 294.09,51.80 303.08,52.60 312.06,48.80 321.04,49.80 330.02,51.60 339.01,54.80 347.99,47.60 356.97,50.10 365.96,51.80 374.94,49.80 383.92,49.80 392.91,49.80 401.89,50.30 410.87,52.60 419.85,54.40 428.84,52.40 437.82,52.40 446.80,49.40 455.79,52.70 464.77,51.80 473.75,49.80 482.74,51.80 491.72,48.80 500.70,48.80 509.68,49.90 518.67,48.80 527.65,51.80 536.63,51.80 545.62,47.00 554.60,49.80 563.58,52.80 572.57,49.60 581.55,54.40 590.53,52.80 599.51,49.80 608.50,52.10" fill="none" stroke="#0000ff" stroke-width="1.4" stroke-linejoin="round"/><path d="M75.40,115.80 H81.60 M78.50,112.70 V118.90" stroke="#0000ff" stroke-width="1.4" fill="none"/><path d="M84.38,82.10 H90.58 M87.48,79.00 V85.20" stroke="#0000ff" stroke-width="1.4" fill="none"/><path d="M93.37,55.10 H99.57 M96.47,52.00 V58.20" stroke="#0000ff" stroke-width="1.4" fill="none"/><path d="M102.35,50.10 H108.55 M105.45,47.00 V53.20" stroke="#0000ff" stroke-width="1.4" fill="none"/><path d="M111.33,49.00 H117.53 M114.43,45.90 V52.10" stroke="#0000ff" stroke-width="1.4" fill="none"/><path d="M120.32,51.80 H126.52 M123.42,48.70 V54.90" stroke="#0000ff" stroke-width="1.4" fill="none"/><path d="M129.30,52.60 H135.50 M132.40,49.50 V55.70" stroke="#0000ff" stroke-width="1.4" fill="none"/><path d="M138.28,54.40 H144.48 M141.38,51.30 V57.50" stroke="#0000ff" stroke-width="1.4" fill="none"/><path d="M147.26,52.60 H153.46 M150.36,49.50 V55.70" stroke="#0000ff" stroke-width="1.4" fill="none"/><path d="M156.25,51.60 H162.45 M159.35,48.50 V54.70" stroke="#0000ff" stroke-width="1.4" fill="none"/><path d="M165.23,54.80 H171.43 M168.33,51.70 V57.90" stroke="#0000ff" stroke-width="1.4" fill="none"/><path d="M174.21,51.60 H180.41 M177.31,48.50 V54.70" stroke="#0000ff" stroke-width="1.4" fill="none"/><path d="M183.20,48.80 H189.40 M186.30,45.70 V51.90" stroke="#0000ff" stroke-width="1.4" fill="none"/><path d="M192.18,51.80 H198.38 M195.28,48.70 V54.90" stroke="#0000ff" stroke-width="1.4" fill="none"/><path d="M201.16,50.10 H207.36 M204.26,47.00 V53.20" stroke="#0000ff" stroke-width="1.4" fill="none"/><path d="M210.15,49.80 H216.34 M213.25,46.70 V52.90" stroke="#0000ff" stroke-width="1.4" fill="none"/><path d="M219.13,54.60 H225.33 M222.23,51.50 V57.70" stroke="#0000ff" stroke-width="1.4" fill="none"/><path d="M228.11,52.60 H234.31 M231.21,49.50 V55.70" stroke="#0000ff" stroke-width="1.4" fill="none"/><path d="M237.09,52.10 H243.29 M240.19,49.00 V55.20" stroke="#0000ff" stroke-width="1.4" fill="none"/><path d="M246.08,51.80 H252.28 M249.18,48.70 V54.90" stroke="#0000ff" stroke-width="1.4" fill="none"/><path d="M255.06,51.80 H261.26 M258.16,48.70 V54.90" stroke="#0000ff" stroke-width="1.4" fill="none"/><path d="M264.04,51.80 H270.24 M267.14,48.70 V54.90" stroke="#0000ff" stroke-width="1.4" fill="none"/><path d="M273.03,49.60 H279.23 M276.13,46.50 V52.70" stroke="#0000ff" stroke-width="1.4" fill="none"/><path d="M282.01,51.80 H288.21 M285.11,48.70 V54.90" stroke="#0000ff" stroke-width="1.4" fill="none"/><path d="M290.99,51.80 H297.19 M294.09,48.70 V54.90" stroke="#0000ff" stroke-width="1.4" fill="none"/><path d="M299.98,52.60 H306.18 M303.08,49.50 V55.70" stroke="#0000ff" stroke-width="1.4" fill="none"/><path d="M308.96,48.80 H315.16 M312.06,45.70 V51.90" stroke="#0000ff" stroke-width="1.4" fill="none"/><path d="M317.94,49.80 H324.14 M321.04,46.70 V52.90" stroke="#0000ff" stroke-width="1.4" fill="none"/><path d="M326.92,51.60 H333.12 M330.02,48.50 V54.70" stroke="#0000ff" stroke-width="1.4" fill="none"/><path d="M335.91,54.80 H342.11 M339.01,51.70 V57.90" stroke="#0000ff" stroke-width="1.4" fill="none"/><path d="M344.89,47.60 H351.09 M347.99,44.50 V50.70" stroke="#0000ff" stroke-width="1.4" fill="none"/><path d="M353.87,50.10 H360.07 M356.97,47.00 V53.20" stroke="#0000ff" stroke-width="1.4" fill="none"/><path d="M362.86,51.80 H369.06 M365.96,48.70 V54.90" stroke="#0000ff" stroke-width="1.4" fill="none"/><path d="M371.84,49.80 H378.04 M374.94,46.70 V52.90" stroke="#0000ff" stroke-width="1.4" fill="none"/><path d="M380.82,49.80 H387.02 M383.92,46.70 V52.90" stroke="#0000ff" stroke-width="1.4" fill="none"/><path d="M389.81,49.80 H396.01 M392.91,46.70 V52.90" stroke="#0000ff" stroke-width="1.4" fill="none"/><path d="M398.79,50.30 H404.99 M401.89,47.20 V53.40" stroke="#0000ff" stroke-width="1.4" fill="none"/><path d="M407.77,52.60 H413.97 M410.87,49.50 V55.70" stroke="#0000ff" stroke-width="1.4" fill="none"/><path d="M416.75,54.40 H422.95 M419.85,51.30 V57.50" stroke="#0000ff" stroke-width="1.4" fill="none"/><path d="M425.74,52.40 H431.94 M428.84,49.30 V55.50" stroke="#0000ff" stroke-width="1.4" fill="none"/><path d="M434.72,52.40 H440.92 M437.82,49.30 V55.50" stroke="#0000ff" stroke-width="1.4" fill="none"/><path d="M443.70,49.40 H449.90 M446.80,46.30 V52.50" stroke="#0000ff" stroke-width="1.4" fill="none"/><path d="M452.69,52.70 H458.89 M455.79,49.60 V55.80" stroke="#0000ff" stroke-width="1.4" fill="none"/><path d="M461.67,51.80 H467.87 M464.77,48.70 V54.90" stroke="#0000ff" stroke-width="1.4" fill="none"/><path d="M470.65,49.80 H476.85 M473.75,46.70 V52.90" stroke="#0000ff" stroke-width="1.4" fill="none"/><path d="M479.63,51.80 H485.84 M482.74,48.70 V54.90" stroke="#0000ff" stroke-width="1.4" fill="none"/><path d="M488.62,48.80 H494.82 M491.72,45.70 V51.90" stroke="#0000ff" stroke-width="1.4" fill="none"/><path d="M497.60,48.80 H503.80 M500.70,45.70 V51.90" stroke="#0000ff" stroke-width="1.4" fill="none"/><path d="M506.58,49.90 H512.78 M509.68,46.80 V53.00" stroke="#0000ff" stroke-width="1.4" fill="none"/><path d="M515.57,48.80 H521.77 M518.67,45.70 V51.90" stroke="#0000ff" stroke-width="1.4" fill="none"/><path d="M524.55,51.80 H530.75 M527.65,48.70 V54.90" stroke="#0000ff" stroke-width="1.4" fill="none"/><path d="M533.53,51.80 H539.73 M536.63,48.70 V54.90" stroke="#0000ff" stroke-width="1.4" fill="none"/><path d="M542.52,47.00 H548.72 M545.62,43.90 V50.10" stroke="#0000ff" stroke-width="1.4" fill="none"/><path d="M551.50,49.80 H557.70 M554.60,46.70 V52.90" stroke="#0000ff" stroke-width="1.4" fill="none"/><path d="M560.48,52.80 H566.68 M563.58,49.70 V55.90" stroke="#0000ff" stroke-width="1.4" fill="none"/><path d="M569.47,49.60 H575.67 M572.57,46.50 V52.70" stroke="#0000ff" stroke-width="1.4" fill="none"/><path d="M578.45,54.40 H584.65 M581.55,51.30 V57.50" stroke="#0000ff" stroke-width="1.4" fill="none"/><path d="M587.43,52.80 H593.63 M590.53,49.70 V55.90" stroke="#0000ff" stroke-width="1.4" fill="none"/><path d="M596.41,49.80 H602.61 M599.51,46.70 V52.90" stroke="#0000ff" stroke-width="1.4" fill="none"/><path d="M605.40,52.10 H611.60 M608.50,49.00 V55.20" stroke="#0000ff" stroke-width="1.4" fill="none"/></g><rect x="51.9" y="21.0" width="583.40" height="429.60" fill="none" stroke="#000" stroke-width="1.05"/><path d="M78.50,450.6 v4.6 M167.80,450.6 v4.6 M258.20,450.6 v4.6 M347.80,450.6 v4.6 M438.10,450.6 v4.6 M527.80,450.6 v4.6 M617.50,450.6 v4.6 M51.9,450.60 h-4.6 M51.9,407.69 h-4.6 M51.9,364.78 h-4.6 M51.9,321.87 h-4.6 M51.9,278.96 h-4.6 M51.9,236.04 h-4.6 M51.9,193.13 h-4.6 M51.9,150.22 h-4.6 M51.9,107.31 h-4.6 M51.9,64.40 h-4.6" stroke="#000" stroke-width="1.05" fill="none"/><text x="78.50" y="470.2" font-family='"Liberation Sans", sans-serif' font-size="13.8" text-anchor="middle" fill="#000" textLength="8.20" lengthAdjust="spacingAndGlyphs">0</text><text x="167.80" y="470.2" font-family='"Liberation Sans", sans-serif' font-size="13.8" text-anchor="middle" fill="#000" textLength="16.40" lengthAdjust="spacingAndGlyphs">10</text><text x="258.20" y="470.2" font-family='"Liberation Sans", sans-serif' font-size="13.8" text-anchor="middle" fill="#000" textLength="16.40" lengthAdjust="spacingAndGlyphs">20</text><text x="347.80" y="470.2" font-family='"Liberation Sans", sans-serif' font-size="13.8" text-anchor="middle" fill="#000" textLength="16.40" lengthAdjust="spacingAndGlyphs">30</text><text x="438.10" y="470.2" font-family='"Liberation Sans", sans-serif' font-size="13.8" text-anchor="middle" fill="#000" textLength="16.40" lengthAdjust="spacingAndGlyphs">40</text><text x="527.80" y="470.2" font-family='"Liberation Sans", sans-serif' font-size="13.8" text-anchor="middle" fill="#000" textLength="16.40" lengthAdjust="spacingAndGlyphs">50</text><text x="617.50" y="470.2" font-family='"Liberation Sans", sans-serif' font-size="13.8" text-anchor="middle" fill="#000" textLength="16.40" lengthAdjust="spacingAndGlyphs">60</text><text x="41.6" y="455.20" font-family='"Liberation Sans", sans-serif' font-size="13.8" text-anchor="end" fill="#000" textLength="8.20" lengthAdjust="spacingAndGlyphs">0</text><text x="41.6" y="412.29" font-family='"Liberation Sans", sans-serif' font-size="13.8" text-anchor="end" fill="#000" textLength="16.40" lengthAdjust="spacingAndGlyphs">10</text><text x="41.6" y="369.38" font-family='"Liberation Sans", sans-serif' font-size="13.8" text-anchor="end" fill="#000" textLength="16.40" lengthAdjust="spacingAndGlyphs">20</text><text x="41.6" y="326.47" font-family='"Liberation Sans", sans-serif' font-size="13.8" text-anchor="end" fill="#000" textLength="16.40" lengthAdjust="spacingAndGlyphs">30</text><text x="41.6" y="283.56" font-family='"Liberation Sans", sans-serif' font-size="13.8" text-anchor="end" fill="#000" textLength="16.40" lengthAdjust="spacingAndGlyphs">40</text><text x="41.6" y="240.64" font-family='"Liberation Sans", sans-serif' font-size="13.8" text-anchor="end" fill="#000" textLength="16.40" lengthAdjust="spacingAndGlyphs">50</text><text x="41.6" y="197.73" font-family='"Liberation Sans", sans-serif' font-size="13.8" text-anchor="end" fill="#000" textLength="16.40" lengthAdjust="spacingAndGlyphs">60</text><text x="41.6" y="154.82" font-family='"Liberation Sans", sans-serif' font-size="13.8" text-anchor="end" fill="#000" textLength="16.40" lengthAdjust="spacingAndGlyphs">70</text><text x="41.6" y="111.91" font-family='"Liberation Sans", sans-serif' font-size="13.8" text-anchor="end" fill="#000" textLength="16.40" lengthAdjust="spacingAndGlyphs">80</text><text x="41.6" y="69.00" font-family='"Liberation Sans", sans-serif' font-size="13.8" text-anchor="end" fill="#000" textLength="16.40" lengthAdjust="spacingAndGlyphs">90</text><text x="343.8" y="490.8" font-family='"Liberation Sans", sans-serif' font-size="16.0" text-anchor="middle" fill="#000" textLength="55.6" lengthAdjust="spacingAndGlyphs">epochs</text><text transform="translate(16.0,237.5) rotate(-90)" x="0" y="0" font-family='"Liberation Sans", sans-serif' font-size="15.4" text-anchor="middle" fill="#000" textLength="98.2" lengthAdjust="spacingAndGlyphs">Accuracy(%)</text><rect x="350.8" y="321.9" width="277.70" height="122.30" rx="3.2" ry="3.2" fill="#fff" fill-opacity="0.8" stroke="#cccccc" stroke-width="1"/><line x1="355.2" y1="331.5" x2="383.4" y2="331.5" stroke="#000" stroke-width="1.95"/><text x="393.40" y="336.00" font-family='"Liberation Sans", sans-serif' font-size="13.2" fill="#000" textLength="58.09" lengthAdjust="spacingAndGlyphs">Xception</text><text x="455.68" y="336.00" font-family='"Liberation Sans", sans-serif' font-size="13.2" fill="#000" textLength="51.14" lengthAdjust="spacingAndGlyphs">training</text><text x="511.02" y="336.00" font-family='"Liberation Sans", sans-serif' font-size="13.2" fill="#000" textLength="59.56" lengthAdjust="spacingAndGlyphs">accuracy</text><line x1="355.2" y1="351.6" x2="383.4" y2="351.6" stroke="#000" stroke-width="1.2"/><circle cx="369.50" cy="351.60" r="2.8" fill="#ff0000" stroke="#000" stroke-width="1"/><text x="393.40" y="356.10" font-family='"Liberation Sans", sans-serif' font-size="13.2" fill="#000" textLength="58.09" lengthAdjust="spacingAndGlyphs">Xception</text><text x="455.68" y="356.10" font-family='"Liberation Sans", sans-serif' font-size="13.2" fill="#000" textLength="64.99" lengthAdjust="spacingAndGlyphs">validation</text><text x="524.87" y="356.10" font-family='"Liberation Sans", sans-serif' font-size="13.2" fill="#000" textLength="59.56" lengthAdjust="spacingAndGlyphs">accuracy</text><line x1="355.2" y1="371.5" x2="383.4" y2="371.5" stroke="#ff0000" stroke-width="1.95"/><text x="393.40" y="376.00" font-family='"Liberation Sans", sans-serif' font-size="13.2" fill="#000" textLength="84.90" lengthAdjust="spacingAndGlyphs">Xception+L2</text><text x="482.49" y="376.00" font-family='"Liberation Sans", sans-serif' font-size="13.2" fill="#000" textLength="51.14" lengthAdjust="spacingAndGlyphs">training</text><text x="537.83" y="376.00" font-family='"Liberation Sans", sans-serif' font-size="13.2" fill="#000" textLength="59.56" lengthAdjust="spacingAndGlyphs">accuracy</text><line x1="355.2" y1="391.6" x2="383.4" y2="391.6" stroke="#ff0000" stroke-width="1.4"/><g transform="translate(369.50,391.60)"><path transform="scale(1,0.88)" d="M0.00,-3.40 L0.94,-1.29 L3.23,-1.05 L1.52,0.49 L2.00,2.75 L0.00,1.60 L-2.00,2.75 L-1.52,0.49 L-3.23,-1.05 L-0.94,-1.29 Z" fill="#ff0000" stroke="#ff0000" stroke-width="0.4"/><circle r="0.75" fill="#6a1a9a"/></g><text x="393.40" y="396.10" font-family='"Liberation Sans", sans-serif' font-size="13.2" fill="#000" textLength="84.90" lengthAdjust="spacingAndGlyphs">Xception+L2</text><text x="482.49" y="396.10" font-family='"Liberation Sans", sans-serif' font-size="13.2" fill="#000" textLength="64.99" lengthAdjust="spacingAndGlyphs">validation</text><text x="551.68" y="396.10" font-family='"Liberation Sans", sans-serif' font-size="13.2" fill="#000" textLength="59.56" lengthAdjust="spacingAndGlyphs">accuracy</text><line x1="355.2" y1="411.5" x2="383.4" y2="411.5" stroke="#0000ff" stroke-width="1.95"/><text x="393.40" y="416.00" font-family='"Liberation Sans", sans-serif' font-size="13.2" fill="#000" textLength="96.29" lengthAdjust="spacingAndGlyphs">Xception+L2M</text><text x="493.88" y="416.00" font-family='"Liberation Sans", sans-serif' font-size="13.2" fill="#000" textLength="51.14" lengthAdjust="spacingAndGlyphs">training</text><text x="549.22" y="416.00" font-family='"Liberation Sans", sans-serif' font-size="13.2" fill="#000" textLength="59.56" lengthAdjust="spacingAndGlyphs">accuracy</text><line x1="355.2" y1="431.6" x2="383.4" y2="431.6" stroke="#0000ff" stroke-width="1.4"/><path d="M366.40,431.60 H372.60 M369.50,428.50 V434.70" stroke="#0000ff" stroke-width="1.4" fill="none"/><text x="393.40" y="436.10" font-family='"Liberation Sans", sans-serif' font-size="13.2" fill="#000" textLength="96.29" lengthAdjust="spacingAndGlyphs">Xception+L2M</text><text x="493.88" y="436.10" font-family='"Liberation Sans", sans-serif' font-size="13.2" fill="#000" textLength="64.99" lengthAdjust="spacingAndGlyphs">validation</text><text x="563.07" y="436.10" font-family='"Liberation Sans", sans-serif' font-size="13.2" fill="#000" textLength="59.56" lengthAdjust="spacingAndGlyphs">accuracy</text></svg>
</body></html>
